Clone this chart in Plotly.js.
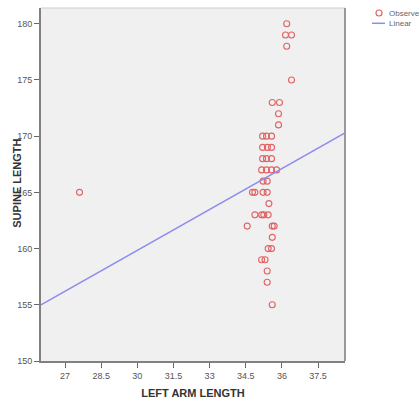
<!DOCTYPE html>
<html><head><meta charset="utf-8">
<script src="https://cdn.plot.ly/plotly-3.0.1.min.js"></script>
<style>html,body{margin:0;padding:0;background:#fff;}#chart{width:419px;height:405px;}</style>
</head><body><div id="chart"></div>
<script>
// Observed points: left arm length (x) vs supine length (y)
const armLength = [27.6,
  36.2, 36.15, 36.4, 36.2, 36.4,
  35.6, 35.9, 35.86, 35.86,
  35.2, 35.36, 35.57,
  35.2, 35.4, 35.57,
  35.2, 35.36, 35.57,
  35.16, 35.36, 35.57, 35.78,
  35.22, 35.39,
  34.78, 34.88, 35.22, 35.39,
  35.46,
  34.88, 35.16, 35.25, 35.43,
  34.56, 35.6, 35.68,
  35.6,
  35.43, 35.57,
  35.16, 35.3,
  35.39, 35.39, 35.6];
const supineLength = [165,
  180, 179, 179, 178, 175,
  173, 173, 172, 171,
  170, 170, 170,
  169, 169, 169,
  168, 168, 168,
  167, 167, 167, 167,
  166, 166,
  165, 165, 165, 165,
  164,
  163, 163, 163, 163,
  162, 162, 162,
  161,
  160, 160,
  159, 159,
  158, 157, 155];
// Linear fit line endpoints
const fitX = [26, 38.62];
const fitY = [155, 170.3];
const xTicks = [27, 28.5, 30, 31.5, 33, 34.5, 36, 37.5];
const yTicks = [150, 155, 160, 165, 170, 175, 180];
const legendNames = ['Observed', 'Linear'];

const markerColor = 'rgb(225,100,100)';
const lineColor = 'rgb(140,140,240)';
const tickFont = {family: 'Liberation Sans Narrow, Arial Narrow, Liberation Sans, sans-serif', size: 9, color: '#555'};
const titleFont = {family: 'Liberation Sans, Arial, sans-serif', size: 11, color: '#333', weight: 'bold'};
const legFont = {family: 'Liberation Sans, Arial, sans-serif', size: 8, color: '#666'};

const traces = [
  {x: armLength, y: supineLength, type: 'scatter', mode: 'markers', name: legendNames[0],
   marker: {symbol: 'circle-open', size: 6, color: markerColor, line: {width: 1.1, color: markerColor}}},
  {x: fitX, y: fitY, type: 'scatter', mode: 'lines', name: legendNames[1],
   line: {color: lineColor, width: 1.5}}
];

const layout = {
  width: 419, height: 405,
  margin: {l: 41, r: 74, t: 8, b: 44, pad: 0, autoexpand: false},
  paper_bgcolor: '#ffffff', plot_bgcolor: '#f0f0f0',
  showlegend: false,
  xaxis: {range: [26, 38.62], tickvals: xTicks, ticktext: xTicks.map(String), ticks: 'outside', ticklen: 5, tickwidth: 1, tickcolor: '#666',
          showgrid: false, zeroline: false, showline: true, linecolor: '#808080', linewidth: 2, tickfont: tickFont,
          title: {text: 'LEFT ARM LENGTH', font: titleFont, standoff: 10}},
  yaxis: {range: [150, 181.4], tickvals: yTicks, ticktext: yTicks.map(String), ticks: 'outside', ticklen: 5, tickwidth: 1, tickcolor: '#666',
          showgrid: false, zeroline: false, showline: true, linecolor: '#808080', linewidth: 2, tickfont: tickFont},
  shapes: [
    {type: 'line', xref: 'paper', yref: 'paper', x0: 0, x1: 1, y0: 1, y1: 1, line: {color: '#ccc', width: 1}},
    {type: 'line', xref: 'paper', yref: 'paper', x0: 1, x1: 1, y0: 0, y1: 1, line: {color: '#999', width: 2}},
    // legend symbols
    {type: 'circle', xref: 'paper', yref: 'paper', xsizemode: 'pixel', ysizemode: 'pixel',
     xanchor: 1.1118, yanchor: 0.9858, x0: -3, x1: 3, y0: -3, y1: 3, line: {color: markerColor, width: 1.2}},
    {type: 'line', xref: 'paper', yref: 'paper', x0: 1.0888, x1: 1.1316, y0: 0.9567, y1: 0.9567, line: {color: lineColor, width: 1.5}}
  ],
  annotations: [
    {text: 'SUPINE LENGTH', xref: 'paper', yref: 'paper', x: -0.079, y: 0.505, textangle: -90, showarrow: false, font: titleFont, xanchor: 'center', yanchor: 'middle'},
    {text: legendNames[0], xref: 'paper', yref: 'paper', x: 1.138, y: 0.9858, showarrow: false, font: legFont, xanchor: 'left', yanchor: 'middle'},
    {text: legendNames[1], xref: 'paper', yref: 'paper', x: 1.138, y: 0.9567, showarrow: false, font: legFont, xanchor: 'left', yanchor: 'middle'}
  ]
};

Plotly.newPlot('chart', traces, layout, {displayModeBar: false, staticPlot: true});
</script>
</body></html>
